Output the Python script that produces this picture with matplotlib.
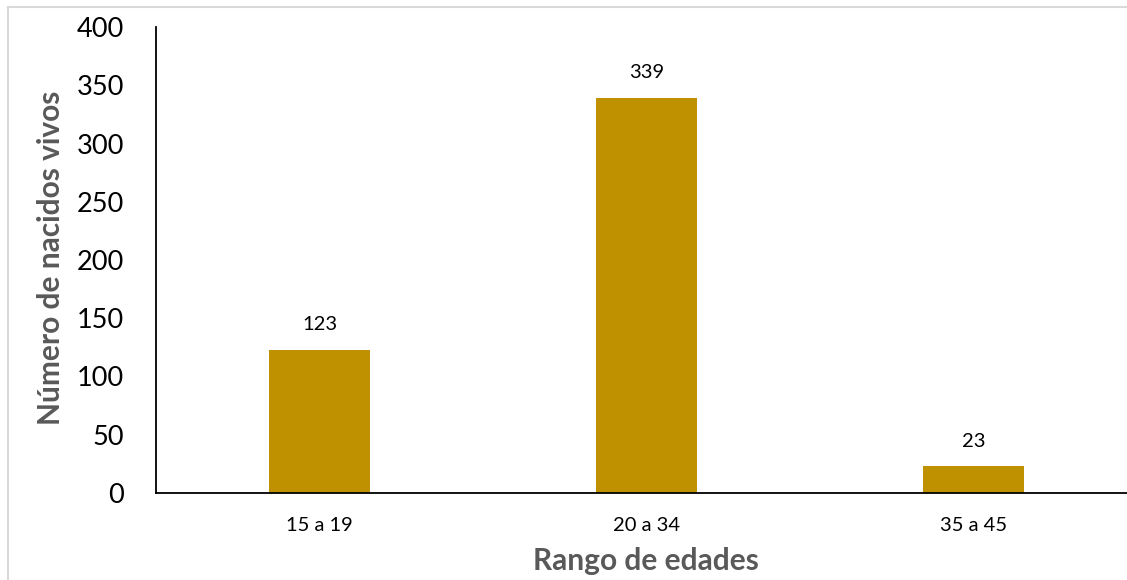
import matplotlib
matplotlib.use("Agg")
import matplotlib.pyplot as plt
from matplotlib.lines import Line2D

categories = ["15 a 19", "20 a 34", "35 a 45"]
values = [123, 339, 23]
yticks = [0, 50, 100, 150, 200, 250, 300, 350, 400]

plt.rcParams['font.family'] = ['Lato', 'DejaVu Sans']

fig = plt.figure(figsize=(11.27, 5.80), dpi=100)
ax = fig.add_axes([156/1127, 87/580, 981/1127, 466/580])

x = list(range(len(categories)))
ax.bar(x, values, width=0.31, color="#BF9000", zorder=2)
ax.set_xlim(-0.5, 2.5)
ax.set_ylim(0, 400)
ax.set_yticks(yticks)
ax.set_yticklabels([str(v) for v in yticks], fontsize=19.5)
ax.set_xticks(x)
ax.set_xticklabels(categories, fontsize=14.5)
ax.tick_params(axis='y', length=0, pad=23)
ax.tick_params(axis='x', length=0, pad=17)

for s in ["top", "right"]:
    ax.spines[s].set_visible(False)
for s in ["left", "bottom"]:
    ax.spines[s].set_color("black")
    ax.spines[s].set_linewidth(1.3)

for xi, v in zip(x, values):
    ax.annotate(str(v), (xi, v), xytext=(0, 12), textcoords="offset points",
                ha="center", va="bottom", fontsize=14.5)

fig.text(51/1127, 1 - 258/580, "Número de nacidos vivos", rotation=90,
         ha="center", va="center", fontsize=21.5, fontweight="bold", color="#595959")
fig.text(646/1127, 1 - 561/580, "Rango de edades", ha="center", va="center",
         fontsize=21.5, fontweight="bold", color="#595959")

# outer chart-area border (left and top visible)
fig.add_artist(Line2D([8/1127, 8/1127], [0, 1 - 7/580], transform=fig.transFigure,
                      color="#D9D9D9", lw=1.5))
fig.add_artist(Line2D([8/1127, 1], [1 - 7/580, 1 - 7/580], transform=fig.transFigure,
                      color="#D9D9D9", lw=1.5))

fig.savefig("out.png", dpi=100)
